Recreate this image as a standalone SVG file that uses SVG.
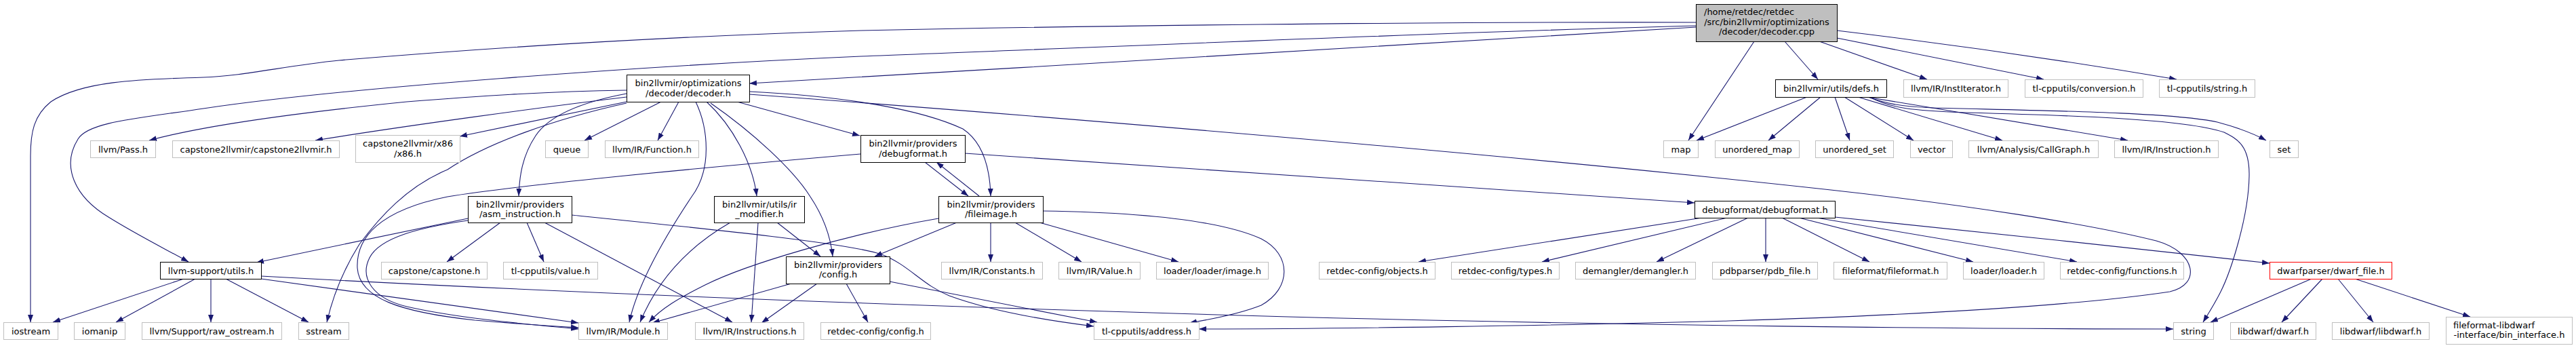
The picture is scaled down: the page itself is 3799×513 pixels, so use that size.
<svg xmlns="http://www.w3.org/2000/svg" width="3799" height="513" viewBox="0 0 3799 513">
<style>
rect{fill:#fff;stroke:#bfbfbf;stroke-width:1}
.d rect{stroke:#000}
.m rect{fill:#bfbfbf;stroke:#000}
.r rect{stroke:#ff0000}
text{font-family:"DejaVu Sans","Liberation Sans",sans-serif;font-size:13px;fill:#000;text-anchor:middle}
text.l{text-anchor:start}
#edges path{fill:none;stroke:#191970;stroke-width:1.1;marker-end:url(#ah)}
</style>
<defs>
<marker id="ah" viewBox="0 0 11 8" refX="11" refY="4" markerWidth="11" markerHeight="8" markerUnits="userSpaceOnUse" orient="auto">
<path d="M0,0L11,4L0,8z" fill="#191970"/>
</marker>
</defs>
<rect x="0" y="0" width="3799" height="513" style="fill:#fff;stroke:none"/>
<g id="edges">
<path d="M2501,33 C2100,32 1600,38 1270,45 C950,55 700,72 500,89 C420,97 360,112 300,114 C200,117 120,120 75,150 C50,170 45,195 45,230 L45,475"/>
<path d="M2501,38 C2100,48 1500,75 1270,83 C950,97 500,130 300,160 C200,175 130,180 115,205 C90,245 110,290 160,320 C200,345 240,365 278,386"/>
<path d="M2501,40 C2200,57 1600,95 1105,123"/>
<path d="M2587,61 L2490,207"/>
<path d="M2632,61 L2681,117"/>
<path d="M2683,61 L2842,117"/>
<path d="M2709,56 L3014,117"/>
<path d="M2709,45 Q2960,75 3210,117"/>
<path d="M924,133 C800,135 700,142 600,150 C450,165 300,185 220,207"/>
<path d="M924,143 C800,158 600,185 465,207"/>
<path d="M924,150 L678,201"/>
<path d="M924,152 C820,175 720,210 660,250 C600,275 560,320 530,360 C505,400 490,440 482,475"/>
<path d="M924,138 C860,150 810,170 790,200 C770,230 766,260 765,289"/>
<path d="M975,150 L862,207"/>
<path d="M1001,150 L970,207"/>
<path d="M1026,150 C1045,190 1050,250 1020,290 C980,350 940,420 928,475"/>
<path d="M1042,150 C1080,185 1110,240 1116,289"/>
<path d="M1048,152 C1110,195 1170,250 1195,290 C1215,320 1225,350 1228,378"/>
<path d="M1087,150 L1268,200"/>
<path d="M1105,135 C1250,142 1360,162 1420,190 C1450,210 1460,250 1461,289"/>
<path d="M1105,139 C1500,168 2200,225 2700,280 C2900,302 3080,330 3180,355 C3240,372 3246,420 3200,430 C3100,445 2900,462 2550,473 C2300,480 1950,485 1768,485"/>
<path d="M738,328 L659,386"/>
<path d="M777,328 L802,386"/>
<path d="M803,328 L1080,475"/>
<path d="M843,317 C1050,338 1250,358 1300,375 C1340,390 1360,420 1400,436 C1460,458 1540,472 1613,481"/>
<path d="M690,322 L378,387"/>
<path d="M690,325 C620,335 560,350 545,380 C530,410 550,440 600,452 C680,470 780,478 853,485"/>
<path d="M1269,227 C1000,250 750,275 660,290 C560,310 525,350 527,395 C530,440 590,460 700,472 C770,478 820,481 853,483"/>
<path d="M271,411 L78,475"/>
<path d="M288,411 L171,475"/>
<path d="M311,411 L311,475"/>
<path d="M333,411 L455,475"/>
<path d="M385,407 C800,430 1300,450 1900,467 C2400,480 2900,485 3205,485"/>
<path d="M385,411 L853,476"/>
<path d="M1077,328 C1030,355 975,400 944,475"/>
<path d="M1118,328 L1108,475"/>
<path d="M1146,328 L1210,378"/>
<path d="M1167,418 L962,476"/>
<path d="M1205,418 L1123,476"/>
<path d="M1248,418 L1280,475"/>
<path d="M1312,415 L1618,475"/>
<path d="M1364,239 L1428,289"/>
<path d="M1444,289 L1381,239"/>
<path d="M1423,226 L2499,299"/>
<path d="M1384,322 C1250,345 1100,390 1040,420 C1000,440 975,455 957,475"/>
<path d="M1411,328 L1290,378"/>
<path d="M1461,328 L1461,386"/>
<path d="M1497,328 L1595,386"/>
<path d="M1533,328 L1738,386"/>
<path d="M1538,311 C1680,313 1800,325 1860,352 C1905,375 1905,425 1860,450 C1830,462 1790,470 1754,476"/>
<path d="M2665,143 L2502,207"/>
<path d="M2685,143 L2608,207"/>
<path d="M2706,143 L2728,207"/>
<path d="M2720,143 L2822,207"/>
<path d="M2740,143 L2953,207"/>
<path d="M2753,143 L3138,207"/>
<path d="M2755,143 C2780,152 2800,157 2850,159 C3000,163 3200,165 3270,180 C3300,188 3320,195 3342,207"/>
<path d="M2757,143 C2790,160 2820,163 2900,166 C3050,170 3220,175 3280,195 C3300,205 3318,215 3317,260 C3316,320 3290,400 3275,430 C3265,450 3255,465 3249,475"/>
<path d="M2510,321 L2092,386"/>
<path d="M2547,321 L2274,386"/>
<path d="M2578,321 L2443,386"/>
<path d="M2604,321 L2604,386"/>
<path d="M2628,321 L2757,386"/>
<path d="M2653,321 L2910,386"/>
<path d="M2679,321 L3063,386"/>
<path d="M2706,320 C2900,340 3150,366 3347,388"/>
<path d="M3409,411 L3260,475"/>
<path d="M3425,411 L3365,475"/>
<path d="M3448,411 L3500,475"/>
<path d="M3473,411 L3643,467"/>
</g>
<g id="n1" class="m"><rect x="2501.5" y="6.5" width="208" height="55"/><text class="l" x="2513" y="22">/home/retdec/retdec</text><text x="2605.5" y="36.5">/src/bin2llvmir/optimizations</text><text x="2605.5" y="51">/decoder/decoder.cpp</text></g>
<g id="n2" class="d"><rect x="924.5" y="110.5" width="181" height="40"/><text x="1015" y="127">bin2llvmir/optimizations</text><text x="1015" y="141.5">/decoder/decoder.h</text></g>
<g id="n3"><rect x="5.5" y="475.5" width="80" height="25"/><text x="45.5" y="492.5">iostream</text></g>
<g id="n4" class="d"><rect x="236.5" y="386.5" width="149" height="25"/><text x="311" y="403.5">llvm-support/utils.h</text></g>
<g id="n5"><rect x="133.5" y="207.5" width="96" height="25"/><text x="181.5" y="224.5">llvm/Pass.h</text></g>
<g id="n6"><rect x="254.5" y="207.5" width="246" height="25"/><text x="377.5" y="224.5">capstone2llvmir/capstone2llvmir.h</text></g>
<g id="n7"><rect x="524.5" y="199.5" width="154" height="40"/><text x="601.5" y="216">capstone2llvmir/x86</text><text x="601.5" y="230.5">/x86.h</text></g>
<g id="n8"><rect x="804.5" y="207.5" width="63" height="25"/><text x="836" y="224.5">queue</text></g>
<g id="n9"><rect x="892.5" y="207.5" width="138" height="25"/><text x="961.5" y="224.5">llvm/IR/Function.h</text></g>
<g id="n10" class="d"><rect x="690.5" y="289.5" width="153" height="39"/><text x="767" y="305.5">bin2llvmir/providers</text><text x="767" y="320">/asm_instruction.h</text></g>
<g id="n11" class="d"><rect x="1053.5" y="289.5" width="133" height="39"/><text x="1120" y="305.5">bin2llvmir/utils/ir</text><text x="1120" y="320">_modifier.h</text></g>
<g id="n12" class="d"><rect x="1269.5" y="199.5" width="154" height="40"/><text x="1346.5" y="216">bin2llvmir/providers</text><text x="1346.5" y="230.5">/debugformat.h</text></g>
<g id="n13" class="d"><rect x="1384.5" y="289.5" width="154" height="39"/><text x="1461.5" y="305.5">bin2llvmir/providers</text><text x="1461.5" y="320">/fileimage.h</text></g>
<g id="n14" class="d"><rect x="1159.5" y="378.5" width="153" height="40"/><text x="1236" y="394.5">bin2llvmir/providers</text><text x="1236" y="409">/config.h</text></g>
<g id="n15"><rect x="562.5" y="386.5" width="156" height="25"/><text x="640.5" y="403.5">capstone/capstone.h</text></g>
<g id="n16"><rect x="742.5" y="386.5" width="139" height="25"/><text x="812" y="403.5">tl-cpputils/value.h</text></g>
<g id="n17"><rect x="1388.5" y="386.5" width="149" height="25"/><text x="1463" y="403.5">llvm/IR/Constants.h</text></g>
<g id="n18"><rect x="1561.5" y="386.5" width="120" height="25"/><text x="1621.5" y="403.5">llvm/IR/Value.h</text></g>
<g id="n19"><rect x="1705.5" y="386.5" width="165" height="25"/><text x="1788" y="403.5">loader/loader/image.h</text></g>
<g id="n20"><rect x="109.5" y="475.5" width="75" height="25"/><text x="147" y="492.5">iomanip</text></g>
<g id="n21"><rect x="209.5" y="475.5" width="206" height="25"/><text x="312.5" y="492.5">llvm/Support/raw_ostream.h</text></g>
<g id="n22"><rect x="440.5" y="475.5" width="74" height="25"/><text x="477.5" y="492.5">sstream</text></g>
<g id="n23"><rect x="853.5" y="475.5" width="131" height="25"/><text x="919" y="492.5">llvm/IR/Module.h</text></g>
<g id="n24"><rect x="1025.5" y="475.5" width="160" height="25"/><text x="1105.5" y="492.5">llvm/IR/Instructions.h</text></g>
<g id="n25"><rect x="1210.5" y="475.5" width="162" height="25"/><text x="1291.5" y="492.5">retdec-config/config.h</text></g>
<g id="n26"><rect x="1613.5" y="475.5" width="155" height="25"/><text x="1691" y="492.5">tl-cpputils/address.h</text></g>
<g id="n27" class="d"><rect x="2499.5" y="296.5" width="207" height="25"/><text x="2603" y="313.5">debugformat/debugformat.h</text></g>
<g id="n28"><rect x="1945.5" y="386.5" width="171" height="25"/><text x="2031" y="403.5">retdec-config/objects.h</text></g>
<g id="n29"><rect x="2140.5" y="386.5" width="159" height="25"/><text x="2220" y="403.5">retdec-config/types.h</text></g>
<g id="n30"><rect x="2323.5" y="386.5" width="177" height="25"/><text x="2412" y="403.5">demangler/demangler.h</text></g>
<g id="n31"><rect x="2525.5" y="386.5" width="155" height="25"/><text x="2603" y="403.5">pdbparser/pdb_file.h</text></g>
<g id="n32"><rect x="2704.5" y="386.5" width="167" height="25"/><text x="2788" y="403.5">fileformat/fileformat.h</text></g>
<g id="n33"><rect x="2895.5" y="386.5" width="119" height="25"/><text x="2955" y="403.5">loader/loader.h</text></g>
<g id="n34"><rect x="3038.5" y="386.5" width="182" height="25"/><text x="3129.5" y="403.5">retdec-config/functions.h</text></g>
<g id="n35" class="r"><rect x="3347.5" y="386.5" width="180" height="25"/><text x="3437.5" y="403.5">dwarfparser/dwarf_file.h</text></g>
<g id="n36"><rect x="3205.5" y="475.5" width="59" height="25"/><text x="3235" y="492.5">string</text></g>
<g id="n37"><rect x="3289.5" y="475.5" width="126" height="25"/><text x="3352.5" y="492.5">libdwarf/dwarf.h</text></g>
<g id="n38"><rect x="3439.5" y="475.5" width="143" height="25"/><text x="3511" y="492.5">libdwarf/libdwarf.h</text></g>
<g id="n39"><rect x="3607.5" y="467.5" width="186" height="40"/><text class="l" x="3618" y="483.5">fileformat-libdwarf</text><text x="3700.5" y="498">-interface/bin_interface.h</text></g>
<g id="n40" class="d"><rect x="2618.5" y="117.5" width="164" height="26"/><text x="2700.5" y="134.5">bin2llvmir/utils/defs.h</text></g>
<g id="n41"><rect x="2807.5" y="117.5" width="154" height="26"/><text x="2884.5" y="134.5">llvm/IR/InstIterator.h</text></g>
<g id="n42"><rect x="2986.5" y="117.5" width="174" height="26"/><text x="3073.5" y="134.5">tl-cpputils/conversion.h</text></g>
<g id="n43"><rect x="3184.5" y="117.5" width="141" height="26"/><text x="3255" y="134.5">tl-cpputils/string.h</text></g>
<g id="n44"><rect x="2453.5" y="207.5" width="51" height="25"/><text x="2479" y="224.5">map</text></g>
<g id="n45"><rect x="2529.5" y="207.5" width="124" height="25"/><text x="2591.5" y="224.5">unordered_map</text></g>
<g id="n46"><rect x="2677.5" y="207.5" width="115" height="25"/><text x="2735" y="224.5">unordered_set</text></g>
<g id="n47"><rect x="2817.5" y="207.5" width="62" height="25"/><text x="2848.5" y="224.5">vector</text></g>
<g id="n48"><rect x="2903.5" y="207.5" width="191" height="25"/><text x="2999" y="224.5">llvm/Analysis/CallGraph.h</text></g>
<g id="n49"><rect x="3118.5" y="207.5" width="153" height="25"/><text x="3195" y="224.5">llvm/IR/Instruction.h</text></g>
<g id="n50"><rect x="3347.5" y="207.5" width="42" height="25"/><text x="3368.5" y="224.5">set</text></g>
</svg>
